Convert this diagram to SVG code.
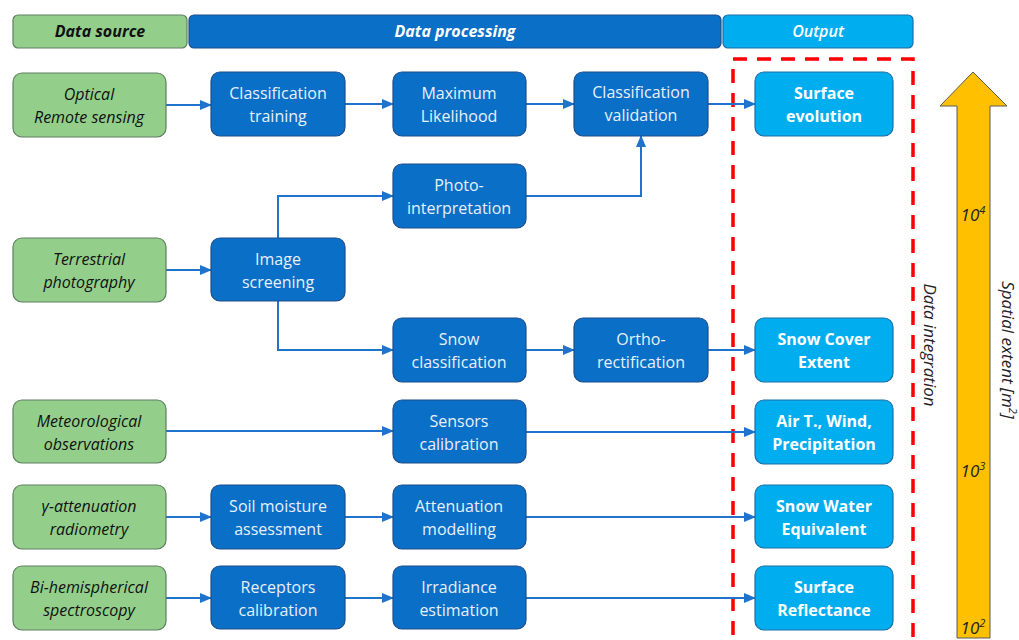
<svg xmlns="http://www.w3.org/2000/svg" width="1019" height="640" viewBox="0 0 1019 640">
<style>
text{font-family:"Open Sans","Liberation Sans",sans-serif;font-size:16px;text-anchor:middle}
.src rect{fill:#93CF8A;stroke:#5E7F62;stroke-width:1.2}
.src text{font-style:italic;fill:#111}
.proc rect{fill:#0A6FC6;stroke:#1F4E8C;stroke-width:1.2}
.proc text{fill:#E8F0FA}
.out rect{fill:#00AEEF;stroke:#1C6FA8;stroke-width:1.2}
.out text{fill:#fff;font-weight:bold}
.hdr text{font-weight:bold;font-style:italic}
.conn path{fill:none;stroke:#1F73CC;stroke-width:2;marker-end:url(#ah)}
.lbl{font-style:italic;fill:#222;font-size:17px}
</style>
<defs>
<marker id="ah" markerWidth="12" markerHeight="10" refX="11" refY="5" orient="auto" markerUnits="userSpaceOnUse">
<path d="M0,0 L12,5 L0,10 Z" fill="#1F73CC"/>
</marker>
</defs>
<rect width="1019" height="640" fill="#fff"/>

<g id="hdr-source" class="hdr src"><rect x="13" y="15" width="174" height="33" rx="5"/><text x="100" y="37" style="font-weight:bold">Data source</text></g>
<g id="hdr-processing" class="hdr proc"><rect x="189" y="15" width="532" height="33" rx="5"/><text x="455" y="37" style="fill:#fff">Data processing</text></g>
<g id="hdr-output" class="out"><rect x="723" y="15" width="190" height="33" rx="5"/><text x="818" y="37" style="font-weight:600;font-style:italic">Output</text></g>

<g id="data-integration-box"><rect x="733" y="59" width="180" height="600" fill="none" stroke="#FF0000" stroke-width="3.5" stroke-dasharray="14,10"/></g>

<g id="spatial-arrow">
<path d="M957,106 L940,106 L973,72 L1007,106 L990,106 L990,638 L957,638 Z" fill="#FFC000" stroke="#5A5A5A" stroke-width="1"/>
<text class="lbl" x="973" y="221">10<tspan dy="-7" font-size="11">4</tspan></text>
<text class="lbl" x="973" y="477">10<tspan dy="-7" font-size="11">3</tspan></text>
<text class="lbl" x="973" y="634">10<tspan dy="-7" font-size="11">2</tspan></text>
</g>
<text class="lbl" id="data-integration-label" transform="translate(924,345) rotate(90)">Data integration</text>
<text class="lbl" id="spatial-extent-label" transform="translate(1002,350) rotate(90)">Spatial extent [m<tspan dy="-7" font-size="11">2</tspan><tspan dy="7">]</tspan></text>

<g id="connectors" class="conn">
<path d="M166,105 L211,105"/>
<path d="M345,104 L393,104"/>
<path d="M526,104 L574,104"/>
<path d="M708,104 L755,104"/>
<path d="M278,238 L278,196 L393,196"/>
<path d="M526,196 L641,196 L641,136"/>
<path d="M166,270 L211,270"/>
<path d="M278,301 L278,350 L393,350"/>
<path d="M526,350 L574,350"/>
<path d="M708,350 L755,350"/>
<path d="M166,431 L393,431"/>
<path d="M526,432 L755,432"/>
<path d="M166,517 L211,517"/>
<path d="M345,517 L393,517"/>
<path d="M526,517 L755,517"/>
<path d="M166,598 L211,598"/>
<path d="M345,598 L393,598"/>
<path d="M526,598 L755,598"/>
</g>

<g id="optical" class="src"><rect x="13" y="73" width="153" height="64" rx="9"/><text x="89" y="100">Optical</text><text x="89" y="123">Remote sensing</text></g>
<g id="terrestrial" class="src"><rect x="13" y="238" width="153" height="64" rx="9"/><text x="89" y="265">Terrestrial</text><text x="89" y="288">photography</text></g>
<g id="meteorological" class="src"><rect x="13" y="400" width="153" height="63" rx="9"/><text x="89" y="427">Meteorological</text><text x="89" y="450">observations</text></g>
<g id="gamma" class="src"><rect x="13" y="485" width="153" height="64" rx="9"/><text x="89" y="512">γ-attenuation</text><text x="89" y="535">radiometry</text></g>
<g id="bihemispherical" class="src"><rect x="13" y="566" width="153" height="64" rx="9"/><text x="89" y="593">Bi-hemispherical</text><text x="89" y="616">spectroscopy</text></g>

<g id="class-training" class="proc"><rect x="211" y="72" width="134" height="64" rx="9"/><text x="278" y="99">Classification</text><text x="278" y="122">training</text></g>
<g id="max-likelihood" class="proc"><rect x="393" y="72" width="133" height="64" rx="9"/><text x="459" y="99">Maximum</text><text x="459" y="122">Likelihood</text></g>
<g id="class-validation" class="proc"><rect x="574" y="72" width="134" height="64" rx="9"/><text x="641" y="98">Classification</text><text x="641" y="121">validation</text></g>
<g id="photo-interp" class="proc"><rect x="393" y="164" width="133" height="64" rx="9"/><text x="459" y="191">Photo-</text><text x="459" y="214">interpretation</text></g>
<g id="image-screening" class="proc"><rect x="211" y="238" width="134" height="63" rx="9"/><text x="278" y="265">Image</text><text x="278" y="288">screening</text></g>
<g id="snow-class" class="proc"><rect x="393" y="318" width="133" height="64" rx="9"/><text x="459" y="345">Snow</text><text x="459" y="368">classification</text></g>
<g id="ortho" class="proc"><rect x="574" y="318" width="134" height="64" rx="9"/><text x="641" y="345">Ortho-</text><text x="641" y="368">rectification</text></g>
<g id="sensors" class="proc"><rect x="393" y="400" width="133" height="63" rx="9"/><text x="459" y="427">Sensors</text><text x="459" y="450">calibration</text></g>
<g id="soil-moisture" class="proc"><rect x="211" y="485" width="134" height="64" rx="9"/><text x="278" y="512">Soil moisture</text><text x="278" y="535">assessment</text></g>
<g id="attenuation" class="proc"><rect x="393" y="485" width="133" height="64" rx="9"/><text x="459" y="512">Attenuation</text><text x="459" y="535">modelling</text></g>
<g id="receptors" class="proc"><rect x="211" y="566" width="134" height="63" rx="9"/><text x="278" y="593">Receptors</text><text x="278" y="616">calibration</text></g>
<g id="irradiance" class="proc"><rect x="393" y="566" width="133" height="63" rx="9"/><text x="459" y="593">Irradiance</text><text x="459" y="616">estimation</text></g>

<g id="surface-evolution" class="out"><rect x="755" y="72" width="138" height="64" rx="9"/><text x="824" y="99">Surface</text><text x="824" y="122">evolution</text></g>
<g id="snow-cover" class="out"><rect x="755" y="318" width="138" height="64" rx="9"/><text x="824" y="345">Snow Cover</text><text x="824" y="368">Extent</text></g>
<g id="air-t" class="out"><rect x="755" y="400" width="138" height="64" rx="9"/><text x="824" y="427">Air T., Wind,</text><text x="824" y="450">Precipitation</text></g>
<g id="swe" class="out"><rect x="755" y="485" width="138" height="63" rx="9"/><text x="824" y="512">Snow Water</text><text x="824" y="535">Equivalent</text></g>
<g id="surface-reflectance" class="out"><rect x="755" y="566" width="138" height="64" rx="9"/><text x="824" y="593">Surface</text><text x="824" y="616">Reflectance</text></g>
</svg>
